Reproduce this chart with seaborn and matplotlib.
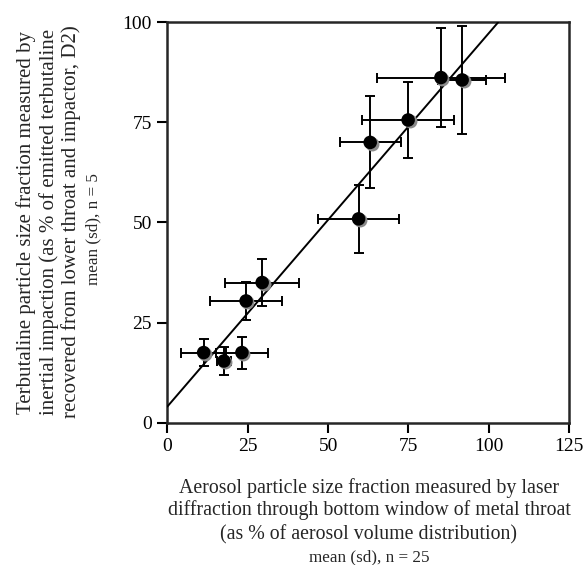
import matplotlib
matplotlib.use("Agg")
import matplotlib.pyplot as plt
import matplotlib.transforms as mtransforms
import seaborn as sns
import pandas as pd

# laser diffraction fraction (x) vs impaction fraction (y), mean and sd
laser_mean = [85.1, 91.7, 74.9, 63.1, 59.5, 29.5, 24.5, 11.3, 17.6, 23.2]
laser_sd = [19.8, 7.5, 14.3, 9.5, 12.5, 11.6, 11.3, 6.9, 2.3, 8.0]
impaction_mean = [86.2, 85.6, 75.6, 70.0, 50.9, 35.0, 30.4, 17.5, 15.4, 17.5]
impaction_sd = [12.3, 13.6, 9.5, 11.5, 8.5, 5.8, 4.8, 3.3, 3.4, 4.0]

# fitted line y = intercept + slope * x
fit_intercept = 4.0
fit_slope = 0.933

x_ticks = [0, 25, 50, 75, 100, 125]
y_ticks = [0, 25, 50, 75, 100]

df = pd.DataFrame({"laser": laser_mean, "laser_sd": laser_sd,
                   "impaction": impaction_mean, "impaction_sd": impaction_sd})

sns.set_style("ticks")
plt.rcParams["font.family"] = ["Liberation Serif", "DejaVu Serif"]
plt.rcParams["axes.linewidth"] = 1.8

fig = plt.figure(figsize=(5.85, 5.65), dpi=100)
ax = fig.add_axes([0.286, 0.252, 0.687, 0.7085])

ax.errorbar(df["laser"], df["impaction"], xerr=df["laser_sd"], yerr=df["impaction_sd"],
            fmt="none", ecolor="black", elinewidth=1.4, capsize=3.5, capthick=1.4, zorder=2)

ax.axline((0, fit_intercept), slope=fit_slope, color="black", lw=1.4, zorder=3)

# grey shadow under each marker
shadow = mtransforms.offset_copy(ax.transData, fig=fig, x=1.0, y=-1.0, units="points")
ax.plot(df["laser"], df["impaction"], "o", ms=10, color="#8a8a8a", mec="none",
        transform=shadow, zorder=4)
sns.scatterplot(data=df, x="laser", y="impaction", ax=ax, s=95, color="black",
                edgecolor="none", zorder=5, legend=False)

ax.set_xlim(0, 125)
ax.set_ylim(0, 100)
ax.set_xticks(x_ticks)
ax.set_yticks(y_ticks)
ax.tick_params(direction="out", length=7, width=1.5, labelsize=14, pad=4, colors="black")
ax.set_xlabel("")
ax.set_ylabel("")
for side in ["top", "right"]:
    ax.spines[side].set_visible(True)

xlab = ["Aerosol particle size fraction measured by laser",
        "diffraction through bottom window of metal throat",
        "(as % of aerosol volume distribution)"]
for yy, t in zip([488, 510, 535], xlab):
    fig.text(369 / 585, 1 - yy / 565, t, ha="center", va="center", fontsize=14.3)
fig.text(369 / 585, 1 - 557 / 565, "mean (sd), n = 25", ha="center", va="center", fontsize=12.3)

ylab = ["Terbutaline particle size fraction measured by",
        "inertial impaction (as % of emitted terbutaline",
        "recovered from lower throat and impactor, D2)"]
for xx, t in zip([26, 49, 71], ylab):
    fig.text(xx / 585, 1 - 222 / 565, t, ha="center", va="center", rotation=90, fontsize=15)
fig.text(93 / 585, 1 - 229 / 565, "mean (sd), n = 5", ha="center", va="center",
         rotation=90, fontsize=12.3)

fig.savefig("out.png", dpi=100)
